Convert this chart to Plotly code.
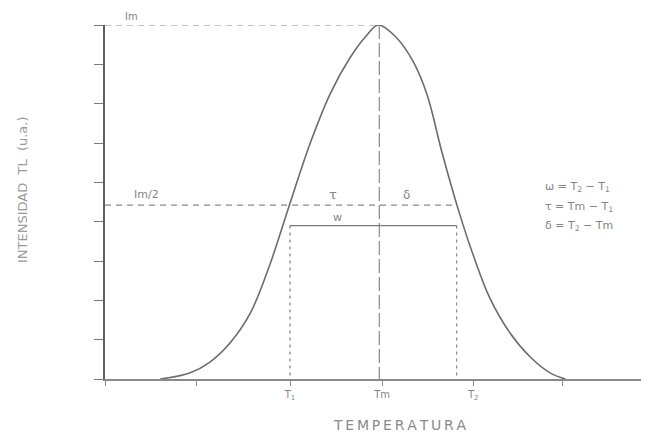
import plotly.graph_objects as go

# Glow curve (temperature and intensity in arbitrary units)
temp = [0.60, 0.92, 1.14, 1.36, 1.58, 1.79, 2.01, 2.23, 2.45, 2.66, 2.83, 2.97,
        3.17, 3.35, 3.50, 3.66, 3.83, 4.00, 4.18, 4.40, 4.62, 4.84, 5.00]
intensity = [0.0, 0.15, 0.43, 0.92, 1.68, 2.90, 4.47, 6.00, 7.27, 8.16, 8.70, 9.0,
             8.67, 8.06, 7.22, 5.77, 4.37, 3.15, 2.06, 1.17, 0.56, 0.15, 0.0]

x_tickvals = [0, 0.99, 2.01, 3.01, 4.0, 4.97]
x_ticktext = ["", "", "T<sub>1</sub>", "Tm", "T<sub>2</sub>", ""]
y_tickvals = [0, 1, 2, 3, 4, 5, 6, 7, 8, 9]

I_m = 9.0
I_half = 4.42
T1 = 2.01
Tm = 2.98
T2 = 3.82
w_level = 3.9

LINE = "#6c6c6c"
TEXT = "#858585"
FONT = "DejaVu Sans"

fig = go.Figure()

fig.add_trace(go.Scatter(x=temp, y=intensity, mode="lines",
                         line=dict(color=LINE, width=1.6, shape="spline", smoothing=1.0),
                         cliponaxis=False, hoverinfo="skip"))
fig.add_trace(go.Scatter(x=[0, Tm], y=[I_m, I_m], mode="lines",
                         line=dict(color="#8a8a8a", width=1.2, dash="6px,5px"), cliponaxis=False))
fig.add_trace(go.Scatter(x=[Tm, Tm], y=[I_m, 0], mode="lines",
                         line=dict(color="#8a8a8a", width=1.2, dash="14px,4px"), cliponaxis=False))
fig.add_trace(go.Scatter(x=[0, T2], y=[I_half, I_half], mode="lines",
                         line=dict(color="#8a8a8a", width=1.2, dash="6px,5px"), cliponaxis=False))
for xv in [T1, T2]:
    fig.add_trace(go.Scatter(x=[xv, xv], y=[w_level, 0], mode="lines",
                             line=dict(color="#8a8a8a", width=1.3, dash="3px,4px"), cliponaxis=False))
fig.add_trace(go.Scatter(x=[T1, T2], y=[w_level, w_level], mode="lines",
                         line=dict(color="#7a7a7a", width=1.3), cliponaxis=False))

PW = 544.0   # plot width (px)
PH = 354.0   # plot height (px)

def py_paper(screen_y):
    return (379 - screen_y) / PH

fig.add_annotation(x=0.29, y=py_paper(16), xref="x", yref="paper", text="Im", showarrow=False,
                   yanchor="middle", font=dict(family=FONT, size=10, color=TEXT))

ann = [
    dict(x=0.45, y=4.68, text="Im/2", size=11),
    dict(x=2.48, y=4.68, text="τ", size=13),
    dict(x=3.28, y=4.68, text="δ", size=12),
    dict(x=2.53, y=4.10, text="w", size=11),
]
for a in ann:
    fig.add_annotation(x=a["x"], y=a["y"], text=a["text"], showarrow=False,
                       xref="x", yref="y", font=dict(family=FONT, size=a["size"], color=TEXT))

eqs = ["ω = T<sub>2</sub> − T<sub>1</sub>", "τ = Tm − T<sub>1</sub>", "δ = T<sub>2</sub> − Tm"]
eq_y = [4.88, 4.37, 3.89]
for t, yv in zip(eqs, eq_y):
    fig.add_annotation(x=4.76, y=yv, text=t, showarrow=False, xanchor="left",
                       xref="x", yref="y", font=dict(family=FONT, size=11, color=TEXT))

fig.add_annotation(x=(22 - 105) / PW, y=py_paper(190), xref="paper", yref="paper",
                   text="INTENSIDAD  TL  (u.a.)", showarrow=False, textangle=-90,
                   xanchor="center", yanchor="middle",
                   font=dict(family=FONT, size=13, color="#9a9a9a"))

fig.add_annotation(x=(400 - 105) / 92.0, y=py_paper(425), xref="x", yref="paper",
                   text="\u2009".join("TEMPERATURA"), showarrow=False,
                   xanchor="center", yanchor="middle",
                   font=dict(family=FONT, size=14, color="#8a8a8a"))

fig.update_layout(
    width=649, height=435,
    margin=dict(l=97, r=8, t=17, b=64),
    paper_bgcolor="white", plot_bgcolor="white",
    showlegend=False,
    xaxis=dict(range=[0, 5.91], showgrid=False, zeroline=False, showline=True,
               linecolor="#8a8a8a", linewidth=1.5, ticks="outside", ticklen=5,
               tickcolor="#8a8a8a", tickwidth=1, tickvals=x_tickvals, ticktext=x_ticktext,
               tickfont=dict(family=FONT, size=10, color=TEXT)),
    yaxis=dict(range=[0, 9], showgrid=False, zeroline=False, showline=True,
               linecolor="#5e5e5e", linewidth=2.2, ticks="outside", ticklen=9,
               tickcolor="#7a7a7a", tickwidth=1.2, tickvals=y_tickvals,
               showticklabels=False),
)

fig.write_html("out.html")
